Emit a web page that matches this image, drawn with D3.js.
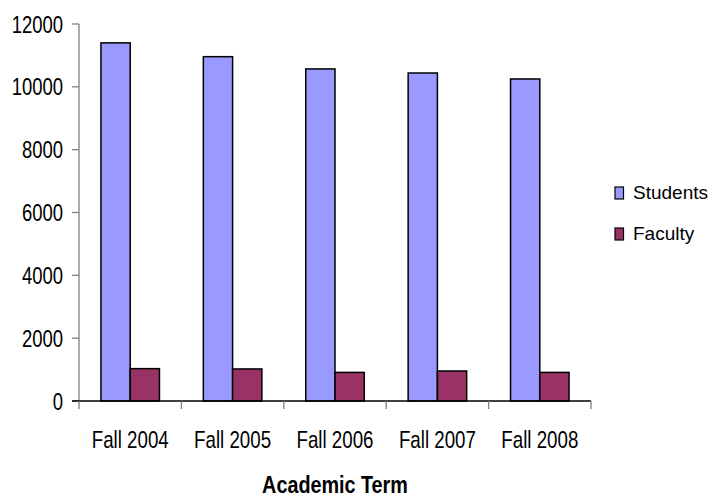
<!DOCTYPE html>
<html>
<head>
<meta charset="utf-8">
<script src="https://cdn.jsdelivr.net/npm/d3@7"></script>
<style>
  html, body { margin: 0; padding: 0; background: #fff; }
  svg { display: block; font-family: "Liberation Sans", Arial, sans-serif; }
</style>
</head>
<body>
<svg id="chart" width="712" height="497"></svg>
<script>
// Enrollment headcounts by academic term
const terms = ["Fall 2004", "Fall 2005", "Fall 2006", "Fall 2007", "Fall 2008"];
const seriesNames = ["Students", "Faculty"];
const students = [11400, 10960, 10570, 10440, 10250];
const faculty = [1030, 1020, 910, 955, 910];
const yTicks = [0, 2000, 4000, 6000, 8000, 10000, 12000];
const colors = ["#9999FF", "#993366"];

const svg = d3.select("#chart");
const plotLeft = 79, plotRight = 591, plotTop = 24, plotBottom = 401;

const x = d3.scaleBand().domain(terms).range([plotLeft, plotRight]).paddingInner(0).paddingOuter(0);
const y = d3.scaleLinear().domain([0, 12000]).range([plotBottom, plotTop]);
// two bars per category with a 150% gap
const inner = d3.scaleBand().domain(seriesNames).range([0, x.bandwidth()])
  .paddingInner(0).paddingOuter(0.75);

const rows = terms.map((t, i) => ({ term: t, values: [students[i], faculty[i]] }));

// y axis
svg.append("line").attr("x1", plotLeft).attr("x2", plotLeft).attr("y1", plotTop).attr("y2", plotBottom + 1)
  .attr("stroke", "#808080").attr("stroke-width", 1.3);
svg.selectAll(".ytick").data(yTicks).join("line").attr("class", "ytick")
  .attr("x1", plotLeft - 7).attr("x2", plotLeft).attr("y1", d => y(d)).attr("y2", d => y(d))
  .attr("stroke", "#808080").attr("stroke-width", 1.3);
svg.selectAll(".ylabel").data(yTicks).join("text").attr("class", "ylabel")
  .attr("transform", d => `translate(63,${y(d) + 8.5}) scale(0.77,1)`)
  .attr("text-anchor", "end").attr("font-size", 24).attr("fill", "#000")
  .text(d => d);

// bars
const groups = svg.selectAll(".grp").data(rows).join("g").attr("class", "grp")
  .attr("transform", d => `translate(${x(d.term)},0)`);
groups.selectAll("rect").data(d => d.values.map((v, j) => ({ name: seriesNames[j], v, j })))
  .join("rect")
  .attr("x", d => inner(d.name))
  .attr("width", inner.bandwidth())
  .attr("y", d => y(d.v))
  .attr("height", d => plotBottom - y(d.v))
  .attr("fill", d => colors[d.j])
  .attr("stroke", "#000").attr("stroke-width", 1.5);

// x axis
svg.append("line").attr("x1", plotLeft - 7).attr("x2", plotRight).attr("y1", plotBottom).attr("y2", plotBottom)
  .attr("stroke", "#000").attr("stroke-width", 1.3);
const xTickPos = terms.map(t => x(t)).concat([plotRight]);
svg.selectAll(".xtick").data(xTickPos).join("line").attr("class", "xtick")
  .attr("x1", d => d).attr("x2", d => d).attr("y1", plotBottom).attr("y2", plotBottom + 8)
  .attr("stroke", "#808080").attr("stroke-width", 1.3);
svg.selectAll(".xlabel").data(terms).join("text").attr("class", "xlabel")
  .attr("transform", d => `translate(${x(d) + x.bandwidth() / 2},447.5) scale(0.78,1)`)
  .attr("text-anchor", "middle").attr("font-size", 24).attr("fill", "#000")
  .text(d => d);

// axis title
svg.append("text")
  .attr("transform", "translate(335,492.5) scale(0.86,1)")
  .attr("text-anchor", "middle").attr("font-size", 23).attr("font-weight", "bold")
  .attr("fill", "#000").text("Academic Term");

// legend
const legend = svg.selectAll(".leg").data(seriesNames).join("g").attr("class", "leg")
  .attr("transform", (d, i) => `translate(615,${187 + i * 41})`);
legend.append("rect").attr("width", 8.5).attr("height", 12)
  .attr("fill", (d, i) => colors[i]).attr("stroke", "#000").attr("stroke-width", 1.2);
legend.append("text").attr("x", 18).attr("y", 11.5)
  .attr("font-size", 19).attr("fill", "#000").text(d => d);
</script>
</body>
</html>
